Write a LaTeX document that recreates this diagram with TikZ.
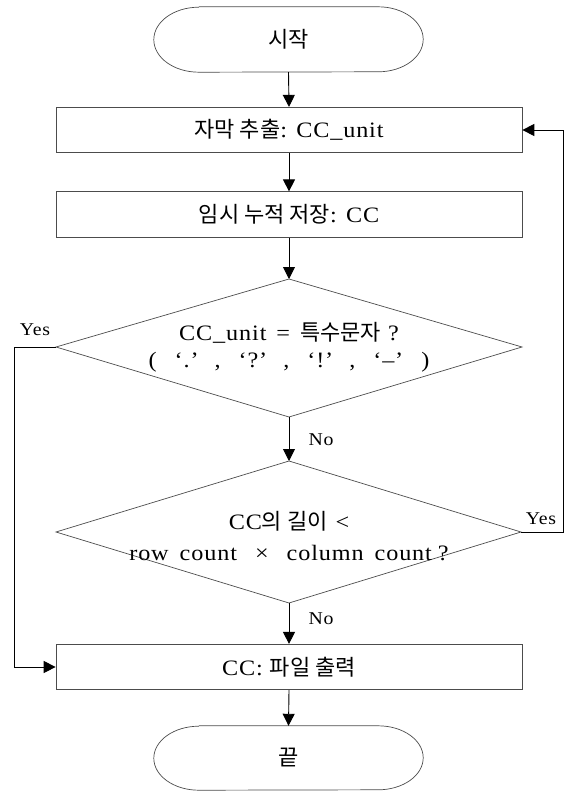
\documentclass[tikz,border=0pt]{standalone}
\usepackage{fontspec}
\setmainfont{Liberation Serif}[LetterSpace=4,FakeStretch=1.1]
\newfontfamily\kr{Noto Sans CJK KR}[Scale=1.0]
\usetikzlibrary{arrows.meta}
\begin{document}
\begin{tikzpicture}[x=1pt,y=-1pt,
  shapeline/.style={draw=black!70,line width=0.7pt},
  boxnode/.style={shapeline,rectangle,minimum width=466pt,minimum height=45.5pt,inner sep=0pt,font=\fontsize{22}{24}\selectfont},
  txt/.style={inner sep=0pt,align=center,font=\fontsize{22}{27}\selectfont},
  lbl/.style={inner sep=0pt,font=\fontsize{18}{20}\selectfont},
  conn/.style={draw=black,line width=0.9pt,-{Triangle[length=12pt,width=12pt]}}]
\useasboundingbox (0,0) rectangle (569,791);
% terminators
\node[inner sep=0pt,minimum width=269pt,minimum height=65pt,font=\fontsize{22}{24}\selectfont] (start) at (288.5,39.5) {\kr 시작};
\draw[shapeline] ([xshift=45pt]start.north west) -- ([xshift=-45pt]start.north east)
  arc[start angle=90,end angle=-90,x radius=45pt,y radius=32.5pt]
  -- ([xshift=45pt]start.south west)
  arc[start angle=270,end angle=90,x radius=45pt,y radius=32.5pt];
\node[inner sep=0pt,minimum width=269pt,minimum height=64pt,font=\fontsize{22}{24}\selectfont] (end) at (288.5,758) {\kr 끝};
\draw[shapeline] ([xshift=45pt]end.north west) -- ([xshift=-45pt]end.north east)
  arc[start angle=90,end angle=-90,x radius=45pt,y radius=32pt]
  -- ([xshift=45pt]end.south west)
  arc[start angle=270,end angle=90,x radius=45pt,y radius=32pt];
% boxes
\node[boxnode] (b1) at (289,130) {{\kr 자막 추출}: CC\_unit};
\node[boxnode] (b2) at (289,214.5) {{\kr 임시 누적 저장}: CC};
\node[boxnode] (b3) at (289,667) {CC: {\kr 파일 출력}};
% diamond 1
\coordinate (d1t) at (289,279);
\coordinate (d1l) at (56,347);
\coordinate (d1r) at (522,347);
\coordinate (d1b) at (289,417);
\draw[shapeline] (d1t) -- (d1r) -- (d1b) -- (d1l) -- cycle;
\node[txt] (d1) at (289,347) {CC\_unit\hspace{10pt}=\hspace{10pt}{\kr 특수문자}\hspace{7pt}?\\(\hspace{18pt}‘.’\hspace{16pt},\hspace{18pt}‘?’\hspace{16pt},\hspace{18pt}‘!’\hspace{16pt},\hspace{18pt}‘–’\hspace{18pt})};
% diamond 2
\coordinate (d2t) at (289,461);
\coordinate (d2l) at (56,532);
\coordinate (d2r) at (521,532);
\coordinate (d2b) at (289,603);
\draw[shapeline] (d2t) -- (d2r) -- (d2b) -- (d2l) -- cycle;
\node[txt,font=\fontsize{22}{31}\selectfont] (d2) at (289,536) {CC{\kr 의 길이}\hspace{8pt}<\\row\hspace{11pt}count\hspace{18pt}×\hspace{18pt}column\hspace{11pt}count\hspace{6pt}?};
% connectors
\draw[conn] (start.south) -- (b1.north);
\draw[conn] (b1.south) -- (b2.north);
\draw[conn] (b2.south) -- (d1t);
\draw[conn] (d1b) -- (d2t);
\draw[conn] (d2b) -- (b3.north);
\draw[conn] (b3.south) -- (end.north);
\coordinate (yl1) at (14,347);
\coordinate (yl2) at (14,667);
\draw[conn] (d1l) -- (yl1) -- (yl2) -- (b3.west);
\coordinate (yr1) at (563,532);
\coordinate (yr2) at (563,130);
\draw[conn] (d2r) -- (yr1) -- (yr2) -- (b1.east);
% labels
\node[lbl] (yes1) at (35,330) {Yes};
\node[lbl] (yes2) at (541,519) {Yes};
\node[lbl] (no1) at (321,440) {No};
\node[lbl] (no2) at (321,619) {No};
\end{tikzpicture}
\end{document}
